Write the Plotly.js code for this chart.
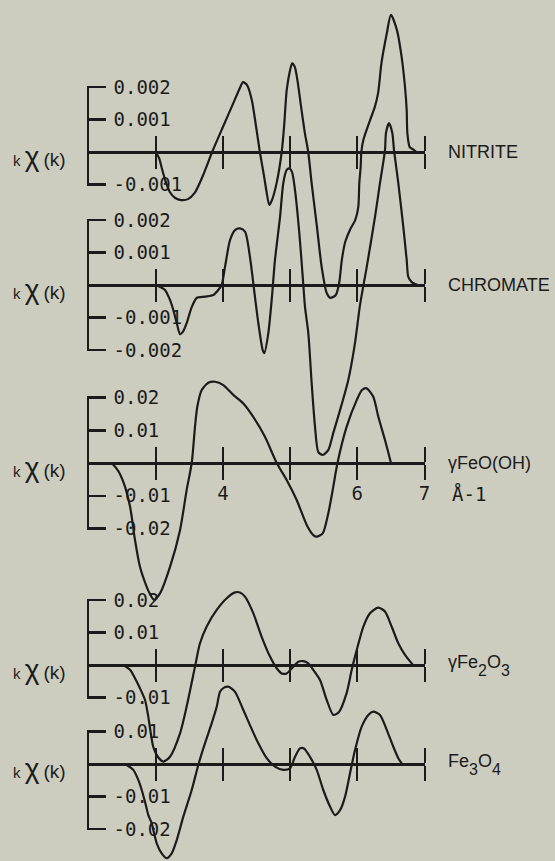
<!DOCTYPE html>
<html>
<head>
<meta charset="utf-8">
<script src="https://cdn.plot.ly/plotly-3.0.1.min.js"></script>
<style>html,body{margin:0;padding:0;background:#cdcdbf;}</style>
</head>
<body>
<div id="chart" style="width:555px;height:861px;"></div>
<script>
// ---------- data ----------
const SUB = "style='font-size:16px;baseline-shift:-8px'";
const seriesNames = ['NITRITE', 'CHROMATE', 'γFeO(OH)',
  "γFe<span " + SUB + ">2</span>O<span " + SUB + ">3</span>",
  "Fe<span " + SUB + ">3</span>O<span " + SUB + ">4</span>"];
const yTitle = "k <span style='font-size:28px'>χ</span> <span style='font-size:19px'>(k)</span>";
const kTicks = [3, 4, 5, 6, 7];
const kLabelVals = [4, 6, 7];
const kLabelText = ['4', '6', '7'];
const kUnit = 'Å-1';

const nitriteK = [3.00,3.05,3.09,3.14,3.21,3.29,3.38,3.48,3.58,3.70,3.84,4.00,4.15,4.24,4.30,4.36,4.43,4.49,4.55,4.61,4.65,4.69,4.73,4.80,4.875,4.91,4.95,5.00,5.03,5.07,5.12,5.15,5.22,5.27,5.32,5.40,5.47,5.545,5.60,5.68,5.73,5.77,5.82,5.89,5.97,6.015,6.03,6.05,6.06,6.09,6.19,6.26,6.31,6.36,6.44,6.50,6.59,6.66,6.71,6.735,6.745,6.78,6.83,6.88];
const nitriteV = [0,-0.000185,-0.00049,-0.00086,-0.00123,-0.001415,-0.00148,-0.00145,-0.00126,-0.00074,0,0.00077,0.00148,0.00191,0.00215,0.00206,0.0016,0.00083,0,-0.00071,-0.00123,-0.00163,-0.00148,-0.00095,0,0.00077,0.00191,0.00252,0.00273,0.00262,0.00206,0.0016,0.00058,0,-0.00095,-0.00231,-0.00354,-0.00434,-0.00449,-0.0044,-0.00403,-0.00332,-0.00277,-0.0024,-0.00209,-0.00169,-0.00095,-0.00046,0,0.00037,0.00098,0.00138,0.00182,0.00274,0.00366,0.00422,0.00375,0.00292,0.0020,0.00129,0.00058,0.00015,0.00008,0];
const nitriteTicks = [0.002, 0.001, -0.001];
const nitriteTickText = ['0.002', '0.001', '-0.001'];

const chromateK = [3.015,3.064,3.138,3.213,3.262,3.31,3.362,3.411,3.461,3.536,3.61,3.734,3.857,3.932,3.982,4.031,4.106,4.18,4.254,4.329,4.403,4.452,4.527,4.592,4.616,4.676,4.726,4.775,4.85,4.899,4.949,4.988,5.028,5.073,5.137,5.188,5.222,5.271,5.321,5.371,5.42,5.485,5.568,5.643,5.743,5.866,5.966,6.04,6.14,6.263,6.338,6.412,6.427,6.472,6.521,6.546,6.61,6.685,6.735,6.759,6.81,6.859,6.90];
const chromateV = [0,-0.00006,-0.00015,-0.00046,-0.00077,-0.00114,-0.00151,-0.00142,-0.00117,-0.00068,-0.0004,-0.00036,-0.00031,-0.00015,0,0.00055,0.00138,0.00169,0.00174,0.00164,0.00086,0.00006,-0.00117,-0.0020,-0.0021,-0.00148,-0.00046,0.00077,0.00209,0.00314,0.00354,0.00359,0.00348,0.00292,0.0016,0.00025,-0.00068,-0.00148,-0.00302,-0.00437,-0.00514,-0.00523,-0.00508,-0.00455,-0.00385,-0.00292,-0.00178,-0.00062,0.00055,0.00209,0.00314,0.00415,0.00468,0.00498,0.00468,0.00415,0.00314,0.00178,0.00077,0.00025,0.00009,0.00003,0];
const chromateTicks = [0.002, 0.001, -0.001, -0.002];
const chromateTickText = ['0.002', '0.001', '-0.001', '-0.002'];

const feoohK = [2.345,2.41,2.47,2.543,2.618,2.643,2.692,2.766,2.866,2.915,2.975,3.064,3.213,3.362,3.461,3.536,3.585,3.619,3.685,3.783,3.882,4.006,4.155,4.304,4.452,4.626,4.801,4.949,5.098,5.247,5.345,5.396,5.485,5.568,5.643,5.705,5.842,5.991,6.07,6.14,6.238,6.313,6.412,6.501];
const feoohV = [0,-0.0015,-0.0034,-0.0072,-0.0133,-0.0164,-0.0235,-0.0317,-0.0378,-0.040,-0.0418,-0.0398,-0.0317,-0.0205,-0.0082,0,0.0111,0.0172,0.0223,0.0245,0.0248,0.0238,0.0208,0.0182,0.0141,0.0080,0,-0.0052,-0.0113,-0.0189,-0.022,-0.0225,-0.0215,-0.0154,-0.0072,0,0.0111,0.0192,0.0223,0.0228,0.0202,0.0141,0.0070,0];
const feoohTicks = [0.02, 0.01, -0.01, -0.02];
const feoohTickText = ['0.02', '0.01', '-0.01', '-0.02'];

const fe2o3K = [2.518,2.618,2.692,2.766,2.841,2.89,2.964,3.034,3.113,3.213,3.362,3.466,3.585,3.659,3.759,3.908,4.057,4.18,4.254,4.329,4.452,4.577,4.701,4.801,4.875,4.949,5.048,5.122,5.196,5.271,5.345,5.445,5.545,5.643,5.728,5.842,5.917,5.991,6.089,6.189,6.313,6.412,6.512,6.61,6.71,6.81,6.833];
const fe2o3V = [0,-0.0015,-0.0041,-0.0072,-0.0108,-0.016,-0.0253,-0.0284,-0.0298,-0.0283,-0.0211,-0.0123,-0.0005,0.0067,0.0119,0.017,0.0206,0.0224,0.0224,0.0211,0.016,0.0087,0.0026,-0.001,-0.0026,-0.0026,-0.0005,0.001,0.0012,0.0005,-0.0015,-0.0046,-0.0108,-0.0154,-0.0145,-0.0086,-0.0015,0.0046,0.0118,0.016,0.0177,0.0165,0.0118,0.0067,0.0031,0.0005,0];
const fe2o3Ticks = [0.02, 0.01, -0.01];
const fe2o3TickText = ['0.02', '0.01', '-0.01'];

const fe3o4K = [2.568,2.667,2.741,2.792,2.841,2.89,2.94,2.975,3.015,3.089,3.164,3.238,3.313,3.411,3.536,3.634,3.734,3.833,3.908,3.957,4.016,4.08,4.18,4.304,4.503,4.652,4.775,4.899,4.999,5.073,5.147,5.207,5.296,5.396,5.494,5.594,5.668,5.743,5.817,5.891,5.966,6.065,6.164,6.238,6.338,6.438,6.536,6.61,6.661];
const fe3o4V = [-0.0003,-0.0018,-0.0049,-0.008,-0.0117,-0.0157,-0.0182,-0.0212,-0.0244,-0.0275,-0.029,-0.0275,-0.0234,-0.0162,-0.008,-0.0003,0.0064,0.0125,0.0176,0.0222,0.0235,0.0238,0.0222,0.0166,0.0074,0.0018,-0.0008,-0.0018,-0.0013,0.0022,0.0048,0.0048,0.0022,-0.0018,-0.008,-0.0131,-0.0157,-0.0142,-0.0101,-0.0029,0.0043,0.0115,0.0151,0.0161,0.0151,0.0105,0.0053,0.0018,0.0002];
const fe3o4Ticks = [0.01, -0.01, -0.02];
const fe3o4TickText = ['0.01', '-0.01', '-0.02'];

// ---------- layout geometry ----------
const W = 555, H = 861;
const X_LEFT = 88.5, PX_PER_K = 67.2;     // pixel of k = 2 and pixels per unit k
const INK = '#1b1b1b';
const BG = '#cdcdbf';
const NUM_FONT = {family: 'DejaVu Sans Mono', size: 19, color: INK};
const NAME_FONT = {family: 'Liberation Sans, Arial, sans-serif', size: 18, color: INK};

const panels = [
  {name: seriesNames[0], k: nitriteK,  v: nitriteV,  ticks: nitriteTicks,  text: nitriteTickText,  y0: 152, s: 32.5,  u: 0.001, showK: false, ny: 0},
  {name: seriesNames[1], k: chromateK, v: chromateV, ticks: chromateTicks, text: chromateTickText, y0: 285, s: 32.5,  u: 0.001, showK: false, ny: 0},
  {name: seriesNames[2], k: feoohK,    v: feoohV,    ticks: feoohTicks,    text: feoohTickText,    y0: 463, s: 32.75, u: 0.01,  showK: true,  ny: 0},
  {name: seriesNames[3], k: fe2o3K,    v: fe2o3V,    ticks: fe2o3Ticks,    text: fe2o3TickText,    y0: 665, s: 32.4,  u: 0.01,  showK: false, ny: 0},
  {name: seriesNames[4], k: fe3o4K,    v: fe3o4V,    ticks: fe3o4Ticks,    text: fe3o4TickText,    y0: 764, s: 32.5,  u: 0.01,  showK: false, ny: 0}
];

const kMin = 2, kMax = 7;
const layout = {
  width: W, height: H,
  margin: {l: 0, r: 0, t: 0, b: 0, pad: 0},
  paper_bgcolor: BG, plot_bgcolor: 'rgba(0,0,0,0)',
  showlegend: false, hovermode: false,
  xaxis: {domain: [X_LEFT / W, (X_LEFT + (kMax - kMin) * PX_PER_K) / W], range: [kMin, kMax], visible: false, fixedrange: true},
  annotations: []
};
const traces = [];
const emptyTrace = (xa, ya) => ({x: [], y: [], xaxis: xa, yaxis: ya, type: 'scatter', mode: 'lines', hoverinfo: 'skip'});

panels.forEach((p, i) => {
  const yName = i === 0 ? 'y' : 'y' + (i + 1);
  const yKey = i === 0 ? 'yaxis' : 'yaxis' + (i + 1);
  // full-height value axis positioned so that 0 sits on this panel's baseline
  layout[yKey] = {
    domain: [0, 1],
    range: [(p.y0 - H) / p.s * p.u, p.y0 / p.s * p.u],
    visible: false, fixedrange: true
  };
  if (i > 0) layout[yKey].overlaying = 'y';
  traces.push({
    x: p.k, y: p.v, xaxis: 'x', yaxis: yName, type: 'scatter', mode: 'lines',
    line: {color: INK, width: 2.2, shape: 'spline', smoothing: 0.7},
    hoverinfo: 'skip'
  });

  // bracket: line + ticks
  const tMax = Math.max(...p.ticks), tMin = Math.min(...p.ticks);
  const pad = 1.2;   // px
  const pyTop = p.y0 - tMax / p.u * p.s - pad, pyBot = p.y0 - tMin / p.u * p.s + pad;
  const dv = pad / p.s * p.u;
  layout['yaxis' + (6 + i)] = {
    domain: [(H - pyBot) / H, (H - pyTop) / H],
    range: [tMin - dv, tMax + dv], anchor: 'free', position: (X_LEFT - 1) / W,
    showline: true, linewidth: 2.5, linecolor: INK,
    ticks: 'inside', ticklen: 17, tickwidth: 2.5, tickcolor: INK,
    tickmode: 'array', tickvals: p.ticks, showticklabels: false,
    showgrid: false, zeroline: false, fixedrange: true
  };
  traces.push(emptyTrace('x', 'y' + (6 + i)));
  // bracket: tick labels
  const lpad = 16;
  const dl = lpad / p.s * p.u;
  layout['yaxis' + (11 + i)] = {
    domain: [(H - (pyBot + lpad)) / H, (H - (pyTop - lpad)) / H],
    range: [tMin - dv - dl, tMax + dv + dl], anchor: 'free', position: (X_LEFT - 1) / W,
    showline: false, ticks: '', tickmode: 'array', tickvals: p.ticks, ticktext: p.text,
    ticklabelposition: 'inside', ticklabelstandoff: 22, tickfont: NUM_FONT,
    showgrid: false, zeroline: false, fixedrange: true
  };
  traces.push(emptyTrace('x', 'y' + (11 + i)));

  // baseline (k axis) with ticks crossing it: a downward and an upward axis
  const pos = (H - p.y0) / H;
  const common = {
    overlaying: 'x', anchor: 'free', position: pos, range: [kMin, kMax],
    showline: true, linewidth: 3, linecolor: INK,
    ticks: 'outside', ticklen: 15, tickwidth: 2, tickcolor: INK,
    tickmode: 'array', tickvals: kTicks, showticklabels: false,
    showgrid: false, zeroline: false, fixedrange: true
  };
  layout['xaxis' + (2 + 2 * i)] = Object.assign({}, common, {side: 'bottom'});
  layout['xaxis' + (3 + 2 * i)] = Object.assign({}, common, {side: 'top'});
  traces.push(emptyTrace('x' + (2 + 2 * i), 'y'));
  traces.push(emptyTrace('x' + (3 + 2 * i), 'y'));

  if (p.showK) {
    layout.xaxis12 = {
      overlaying: 'x', anchor: 'free', position: pos, range: [kMin, kMax], side: 'bottom',
      showline: false, ticks: '', tickmode: 'array', tickvals: kLabelVals, ticktext: kLabelText,
      ticklabelstandoff: 17, tickfont: NUM_FONT, showgrid: false, zeroline: false, fixedrange: true
    };
    traces.push(emptyTrace('x12', 'y'));
    layout.annotations.push({
      xref: 'paper', yref: 'paper', x: 450 / W, y: 1 - (p.y0 + 31) / H,
      xanchor: 'left', yanchor: 'middle', showarrow: false,
      text: kUnit, font: NUM_FONT
    });
  }

  // y title and series name
  layout.annotations.push({
    xref: 'paper', yref: 'paper', x: 11 / W, y: 1 - (p.y0 + 4) / H,
    xanchor: 'left', yanchor: 'middle', showarrow: false,
    text: yTitle, font: {family: 'Liberation Sans, Arial, sans-serif', size: 15, color: INK}
  });
  layout.annotations.push({
    xref: 'paper', yref: 'paper', x: 446 / W, y: 1 - (p.y0 + p.ny) / H,
    xanchor: 'left', yanchor: 'middle', showarrow: false,
    text: p.name, font: NAME_FONT
  });
});

Plotly.newPlot('chart', traces, layout, {staticPlot: true, displayModeBar: false});
</script>
</body>
</html>
